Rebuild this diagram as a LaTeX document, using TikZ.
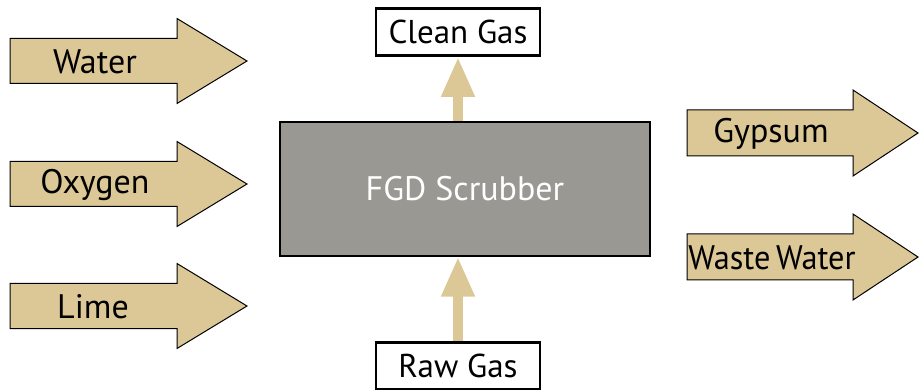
\documentclass[tikz,border=0pt]{standalone}
\usepackage{fontspec}
\setmainfont{PT Sans}
\usetikzlibrary{arrows.meta}
\definecolor{tan}{RGB}{220,200,150}
\definecolor{boxgray}{RGB}{154,152,147}
\tikzset{
  flowbody/.style={fill=tan, draw=black, line width=1pt, line join=miter},
  lbl/.style={font=\fontsize{34}{36}\selectfont, inner sep=0pt, anchor=center},
  gasbox/.style={draw=black, line width=2.6pt, fill=white, minimum width=164pt, minimum height=47pt, inner sep=0pt, font=\fontsize{33}{35}\selectfont},
  uparrow/.style={draw=tan, line width=10pt, -{Triangle[width=31pt,length=40pt]}, shorten >=0pt},
}
% #1 left x, #2 head base x, #3 tip x, #4 centre y, #5 body half, #6 head half
\newcommand{\flowarrow}[6]{%
  \draw[flowbody] (#1,#4-#5) -- (#2,#4-#5) -- (#2,#4-#6) -- (#3,#4) -- (#2,#4+#6) -- (#2,#4+#5) -- (#1,#4+#5) -- cycle;}
\begin{document}
\begin{tikzpicture}[x=1pt,y=-1pt]
\useasboundingbox (0,0) rectangle (919,390);
% input arrows
\flowarrow{10}{177}{247}{61}{22.5}{42.5}
\flowarrow{10}{177}{247}{184}{22.5}{42.5}
\flowarrow{10}{177}{247}{306}{22.5}{42.5}
\node[lbl] (water) at (95,62) {Water};
\node[lbl] (oxygen) at (95,185) {Oxygen};
\node[lbl] (lime) at (93,307) {Lime};
% output arrows
\flowarrow{687}{853}{918}{133}{23}{43}
\flowarrow{687}{853}{918}{257}{23}{43}
\node[lbl] (gypsum) at (771,134) {Gypsum};
\node[lbl] (waste) at (772,258) {\scalebox{0.95}[1]{Waste\hspace{-3pt} Water}};
% scrubber
\node[draw=black, line width=1.2pt, fill=boxgray, minimum width=370pt, minimum height=134pt, inner sep=0pt, text=white, font=\fontsize{34}{36}\selectfont] (fgd) at (465,189) {FGD Scrubber};
% gas boxes
\node[gasbox] (clean) at (458,32) {Clean Gas};
\node[gasbox] (raw) at (458,366) {Raw Gas};
% connectors
\draw[uparrow] (fgd.north -| clean.south) -- (clean.south);
\draw[uparrow] (raw.north) -- (raw.north |- fgd.south);
\end{tikzpicture}
\end{document}
